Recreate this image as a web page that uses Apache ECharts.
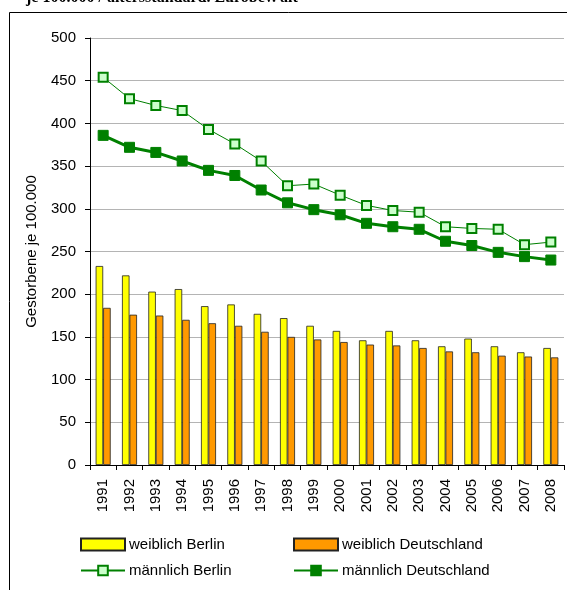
<!DOCTYPE html>
<html>
<head>
<meta charset="utf-8">
<script src="https://cdn.jsdelivr.net/npm/echarts@6/dist/echarts.min.js"></script>
<style>
  html, body { margin: 0; padding: 0; background: #fff; }
  #main { width: 567px; height: 590px; }
</style>
</head>
<body>
<div id="main"></div>
<script>
// Jahre
var years = ['1991', '1992', '1993', '1994', '1995', '1996', '1997', '1998', '1999',
             '2000', '2001', '2002', '2003', '2004', '2005', '2006', '2007', '2008'];

// Gestorbene je 100.000 (altersstandardisiert)
var weiblichBerlin = [233, 222, 203, 206, 186, 188, 177, 172, 163, 157, 146, 157, 146, 139, 148, 139, 132, 137];
var weiblichDeutschland = [184, 176, 175, 170, 166, 163, 156, 150, 147, 144, 141, 140, 137, 133, 132, 128, 127, 126];
var maennlichBerlin = [454, 429, 421, 415, 393, 376, 356, 327, 329, 316, 304, 298, 296, 279, 277, 276, 258, 261];
var maennlichDeutschland = [386, 372, 366, 356, 345, 339, 322, 307, 299, 293, 283, 279, 276, 262, 257, 249, 244, 240];

var yTicks = { min: 0, max: 500, step: 50 };

var fontName = 'Liberation Sans, Arial, sans-serif';

var myChart = echarts.init(document.getElementById('main'));

// eine Legende pro Eintrag, damit die Positionen wie im Original sitzen
function legendItem(name, left, top, icon) {
    var l = {
        left: left, top: top, padding: 0,
        itemWidth: 44, itemHeight: 12, itemGap: 0,
        textStyle: { fontSize: 15, fontFamily: fontName, color: '#000', padding: [0, 0, 0, -1] },
        data: [name]
    };
    if (icon) l.icon = icon;
    return l;
}

var option = {
    animation: false,
    backgroundColor: '#fff',
    textStyle: { fontFamily: fontName, color: '#000' },
    graphic: [
        {
            type: 'rect',
            shape: { x: 9.5, y: 12.5, width: 700, height: 700 },
            style: { fill: 'none', stroke: '#000', lineWidth: 1 },
            silent: true
        },
        {
            type: 'text',
            x: 26, y: -2,
            style: {
                text: 'je 100.000 / altersstandard. Eurobev. alt',
                font: 'bold 16px "Liberation Serif", "Times New Roman", serif',
                fill: '#000',
                verticalAlign: 'middle'
            },
            silent: true
        }
    ],
    grid: { left: 90, right: 3, top: 38, bottom: 125 },
    legend: [
        legendItem('weiblich Berlin', 80, 537, 'rect'),
        legendItem('weiblich Deutschland', 293, 537, 'rect'),
        legendItem('männlich Berlin', 80, 563),
        legendItem('männlich Deutschland', 293, 563)
    ],
    xAxis: {
        type: 'category',
        data: years,
        boundaryGap: true,
        axisLine: { lineStyle: { color: '#000', width: 1 } },
        axisTick: { show: true, length: 5, lineStyle: { color: '#000' } },
        axisLabel: { rotate: 90, fontSize: 15, color: '#000', margin: 14, interval: 0 }
    },
    yAxis: {
        type: 'value',
        min: yTicks.min,
        max: yTicks.max,
        interval: yTicks.step,
        name: 'Gestorbene je 100.000',
        nameLocation: 'middle',
        nameGap: 51,
        nameMoveOverlap: false,
        nameTextStyle: { fontSize: 15, color: '#000' },
        axisLine: { show: true, lineStyle: { color: '#000', width: 1 } },
        axisTick: { show: true, length: 5, lineStyle: { color: '#000' } },
        axisLabel: { fontSize: 15, color: '#000', margin: 14 },
        splitLine: { lineStyle: { color: '#b4b4b4', width: 1 } }
    },
    series: [
        {
            name: 'weiblich Berlin',
            type: 'bar',
            data: weiblichBerlin,
            barGap: '0%',
            barCategoryGap: '43%',
            itemStyle: { color: '#ffff00', borderColor: '#222', borderWidth: 0.8 }
        },
        {
            name: 'weiblich Deutschland',
            type: 'bar',
            data: weiblichDeutschland,
            itemStyle: { color: '#ff9900', borderColor: '#222', borderWidth: 0.8 }
        },
        {
            name: 'männlich Berlin',
            type: 'line',
            data: maennlichBerlin,
            symbol: 'rect',
            symbolSize: 9,
            lineStyle: { color: '#008000', width: 1 },
            itemStyle: { color: '#ccffcc', borderColor: '#008000', borderWidth: 2 }
        },
        {
            name: 'männlich Deutschland',
            type: 'line',
            data: maennlichDeutschland,
            symbol: 'rect',
            symbolSize: 10,
            lineStyle: { color: '#008000', width: 3 },
            itemStyle: { color: '#008000', borderColor: '#008000', borderWidth: 1 }
        }
    ]
};

myChart.setOption(option);

window.addEventListener('resize', function () {
    myChart.resize();
});
</script>
</body>
</html>
